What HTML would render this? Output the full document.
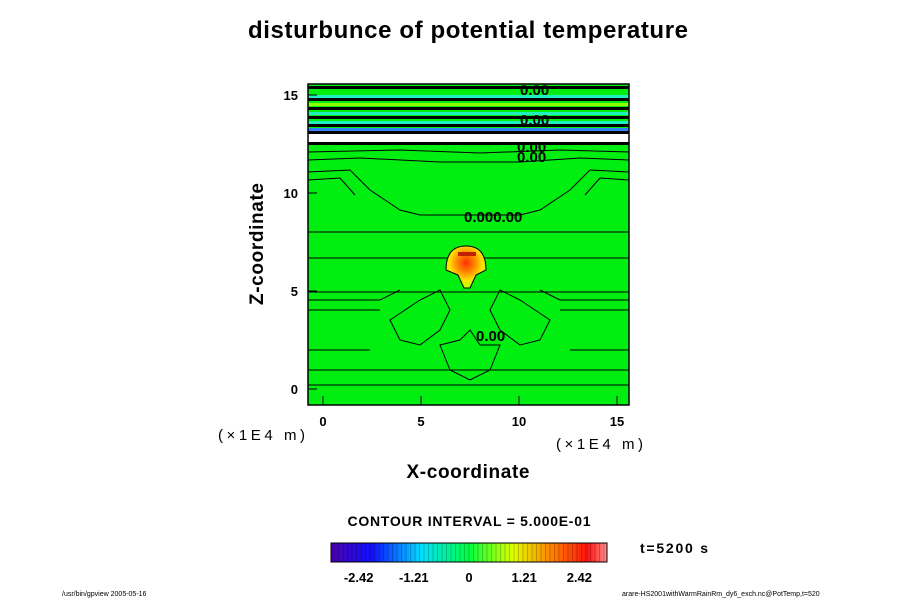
<!DOCTYPE html>
<html><head><meta charset="utf-8"><style>
body{margin:0;background:#fff;width:900px;height:600px;overflow:hidden;font-family:"Liberation Sans",sans-serif}
</style></head><body>
<svg width="900" height="600" xmlns="http://www.w3.org/2000/svg">
<defs>
<linearGradient id="cb" x1="0" x2="1" y1="0" y2="0">
<stop offset="0" stop-color="#4b00b0"/><stop offset="0.15" stop-color="#1010ff"/><stop offset="0.33" stop-color="#00e0ff"/>
<stop offset="0.5" stop-color="#00ff40"/><stop offset="0.66" stop-color="#e0ff00"/><stop offset="0.8" stop-color="#ff8000"/>
<stop offset="0.93" stop-color="#ff1010"/><stop offset="1" stop-color="#ff9090"/></linearGradient>
<radialGradient id="bub" cx="0.5" cy="0.4" r="0.55"><stop offset="0" stop-color="#ff3000"/><stop offset="0.45" stop-color="#ff9000"/><stop offset="0.75" stop-color="#ffe000"/><stop offset="1" stop-color="#c0ff00"/></radialGradient>
</defs>
<text x="468" y="38" text-anchor="middle" font-size="24" font-weight="bold" textLength="440">disturbunce of potential temperature</text>
<g id="plot">
<rect x="308" y="84" width="321" height="321" fill="#00ee10"/>
<g id="topband"></g>
<rect x="308" y="134" width="321" height="8" fill="#fff"/>
<rect x="308" y="142" width="321" height="3" fill="#000"/>
<path d="M308 152 L400 150 L480 153 L560 150 L629 152 M308 160 L360 158 L440 162 L520 162 L580 158 L629 160 M308 172 L350 170 L370 190 L400 210 L420 215 L520 215 L540 210 L570 190 L590 170 L629 172 M308 180 L340 178 L355 195 M629 180 L600 178 L585 195 M308 232 L629 232 M308 258 L629 258 M308 292 L629 292 M308 300 L380 300 L400 290 M629 300 L560 300 L540 290 M308 310 L380 310 M629 310 L560 310 M308 350 L370 350 M629 350 L570 350 M308 370 L629 370 M308 385 L629 385 M390 320 L420 300 L440 290 L450 310 L440 330 L420 345 L400 340 Z M550 320 L520 300 L500 290 L490 310 L500 330 L520 345 L540 340 Z M440 345 L460 340 L470 330 L480 345 L500 345 L490 370 L470 380 L450 370 Z" fill="none" stroke="#000" stroke-width="1"/>
<path d="M446 270 Q446 246 466 246 Q486 246 486 270 L476 275 L470 288 L464 288 L458 275 Z" fill="url(#bub)" stroke="#000" stroke-width="1"/>
<rect x="458" y="252" width="18" height="4" fill="#c02000"/>
<g font-size="15" font-weight="bold" fill="#000">
<text x="464" y="222">0.000.00</text><text x="476" y="341">0.00</text>
<text x="517" y="162">0.00</text><text x="517" y="152">0.00</text>
<text x="520" y="95">0.00</text><text x="520" y="125">0.00</text></g>
<rect x="308" y="84" width="321" height="321" fill="none" stroke="#000" stroke-width="1.5"/>
</g>
<g id="xticks"></g>
<g id="yticks"></g>
<text x="218" y="440" font-size="15" textLength="87">(×1E4 m)</text>
<text x="556" y="449" font-size="15" textLength="87">(×1E4 m)</text>
<text x="468" y="478" text-anchor="middle" font-size="19" font-weight="bold" textLength="123">X-coordinate</text>
<text transform="translate(263,244) rotate(-90)" text-anchor="middle" font-size="19" font-weight="bold" textLength="122">Z-coordinate</text>
<text x="469" y="526" text-anchor="middle" font-size="14" font-weight="bold" textLength="243">CONTOUR INTERVAL = 5.000E-01</text>
<rect x="331" y="543" width="276" height="19" fill="url(#cb)" stroke="#000"/>
<g id="cbstripes"></g>
<g id="cbticks"></g>
<text x="640" y="553" font-size="14" font-weight="bold" textLength="68">t=5200 s</text>
<text x="62" y="596" font-size="7">/usr/bin/gpview 2005-05-16</text>
<text x="622" y="596" font-size="7">arare-HS2001withWarmRainRm_dy6_exch.nc@PotTemp,t=520</text>
</svg>
<script>
const xTicks=[0,5,10,15];
const zTicks=[0,5,10,15];
const cbTicks=[-2.42,-1.21,0,1.21,2.42];
const cbLabels=["-2.42","-1.21","0","1.21","2.42"];
const stripeRows=[86,90,95,98,103,107,112,116,121,124,128,131];
const stripeColors=["#000","#00ee10","#20f0c0","#000","#90ff00","#000","#20f0c0","#000","#20f0c0","#000","#3080ff","#000"];
const NS="http://www.w3.org/2000/svg";
const sx=v=>323+v*19.6, sz=v=>389-v*19.6, sc=v=>469+v*45.6;
function mk(t,a,p){const e=document.createElementNS(NS,t);for(const k in a)e.setAttribute(k,a[k]);p.appendChild(e);return e;}
const xg=document.getElementById('xticks');
xTicks.forEach(v=>{const t=mk('text',{x:sx(v),y:426,'text-anchor':'middle','font-size':13,'font-weight':'bold'},xg);t.textContent=v;


mk('line',{x1:sx(v),x2:sx(v),y1:405,y2:396,stroke:'#000'},xg);});
const yg=document.getElementById('yticks');
zTicks.forEach(v=>{const t=mk('text',{x:298,y:sz(v)+5,'text-anchor':'end','font-size':13,'font-weight':'bold'},yg);t.textContent=v;


mk('line',{x1:308,x2:317,y1:sz(v),y2:sz(v),stroke:'#000'},yg);});
const tb=document.getElementById('topband');
stripeRows.forEach((y,i)=>{const r=mk('rect',{x:308,y:y,width:321,height:3,fill:stripeColors[i]},tb);

});
const cs=document.getElementById('cbstripes');
for(let x=334;x<607;x+=4.5)mk('line',{x1:x,x2:x,y1:543,y2:562,stroke:'rgba(0,0,0,0.35)','stroke-width':0.6},cs);
const cg=document.getElementById('cbticks');
cbTicks.forEach((v,i)=>{const t=mk('text',{x:sc(v),y:582,'text-anchor':'middle','font-size':13,'font-weight':'bold'},cg);t.textContent=cbLabels[i];

});
</script>
</body></html>
